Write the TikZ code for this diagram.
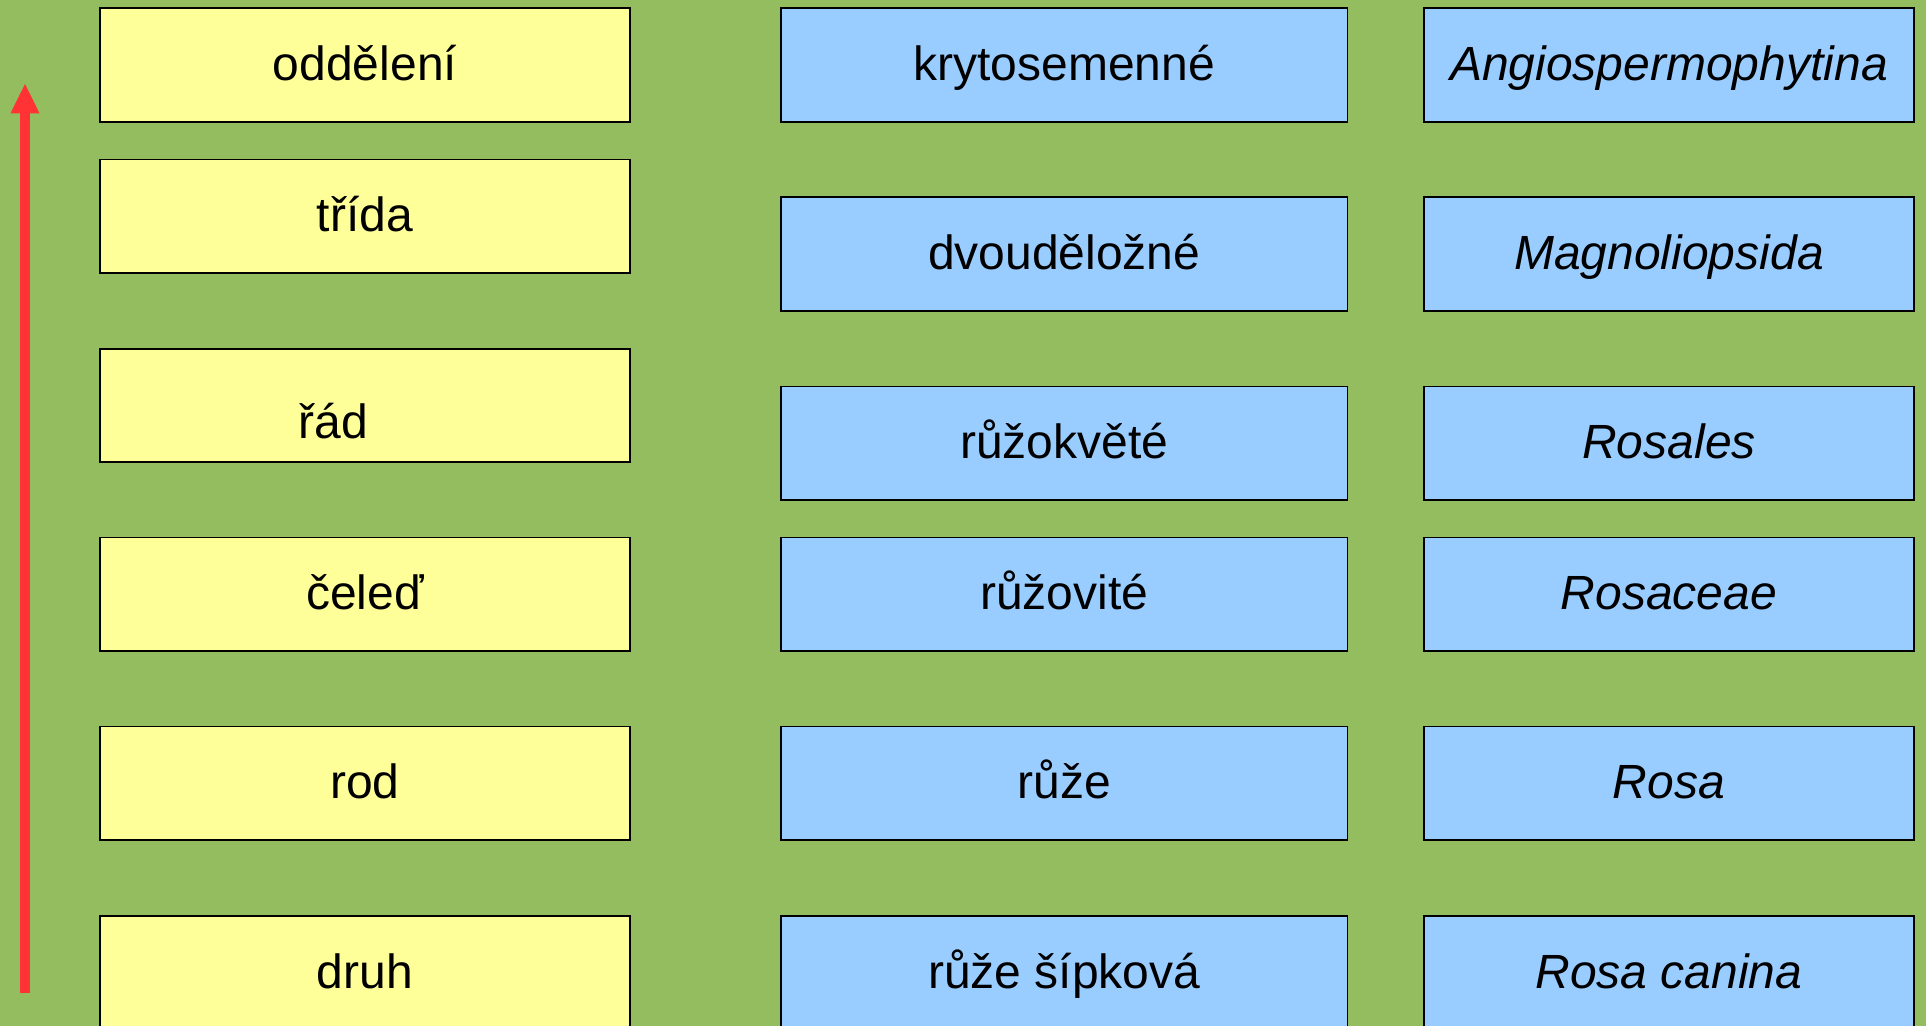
\documentclass[tikz,border=0pt]{standalone}
\usepackage{fontspec}
\setmainfont{Liberation Sans}
\definecolor{bggreen}{RGB}{148,189,95}
\definecolor{yfill}{RGB}{255,255,153}
\definecolor{bfill}{RGB}{153,204,255}
\definecolor{arrred}{RGB}{255,51,51}
\tikzset{
  tbox/.style={draw=black, line width=0.9pt, minimum height=56.75pt, inner sep=0pt,
    text height=15.5pt, text depth=0pt, font=\fontsize{24}{28}\selectfont},
  ybox/.style={tbox, fill=yfill, minimum width=265pt},
  bbox/.style={tbox, fill=bfill, minimum width=283.25pt},
  lbox/.style={tbox, fill=bfill, minimum width=245pt, font=\fontsize{24}{28}\selectfont\itshape},
  plaintxt/.style={inner sep=0pt, font=\fontsize{24}{28}\selectfont}
}
\begin{document}
\begin{tikzpicture}[x=0.5pt,y=-0.5pt]
\useasboundingbox (0,0) rectangle (1926,1026);
\fill[bggreen] (0,0) rectangle (1926,1026);
\clip (0,0) rectangle (1926,1026);

% left column (ranks)
\node[ybox] (y1) at (365,65) {oddělení};
\node[ybox] (y2) at (365,216.3) {třída};
\node[ybox] (y3) at (365,405.5) {};
\node[plaintxt, anchor=base] (y3t) at (333.5,438.3) {řád};
\node[ybox] (y4) at (365,594.2) {čeleď};
\node[ybox] (y5) at (365,783.2) {rod};
\node[ybox] (y6) at (365,972.5) {druh};

% middle column (Czech names)
\node[bbox] (b1) at (1064.25,65) {krytosemenné};
\node[bbox] (b2) at (1064.25,253.9) {dvouděložné};
\node[bbox] (b3) at (1064.25,443.2) {růžokvěté};
\node[bbox] (b4) at (1064.25,594.3) {růžovité};
\node[bbox] (b5) at (1064.25,783.2) {růže};
\node[bbox] (b6) at (1064.25,972.5) {růže šípková};

% right column (Latin names)
\node[lbox] (l1) at (1669,65) {Angiospermophytina};
\node[lbox] (l2) at (1669,253.9) {Magnoliopsida};
\node[lbox] (l3) at (1669,443.2) {Rosales};
\node[lbox] (l4) at (1669,594.3) {Rosaceae};
\node[lbox] (l5) at (1669,783.2) {Rosa};
\node[lbox] (l6) at (1669,972.5) {Rosa canina};

% red arrow
\coordinate (abot) at (25,993);
\coordinate (abase) at (25,113.3);
\coordinate (atip) at (25,84);
\draw[arrred, line width=5pt] (abot) -- (abase);
\fill[arrred] (atip) -- ([xshift=-7.25pt]abase) -- ([xshift=7.25pt]abase) -- cycle;
\end{tikzpicture}
\end{document}
